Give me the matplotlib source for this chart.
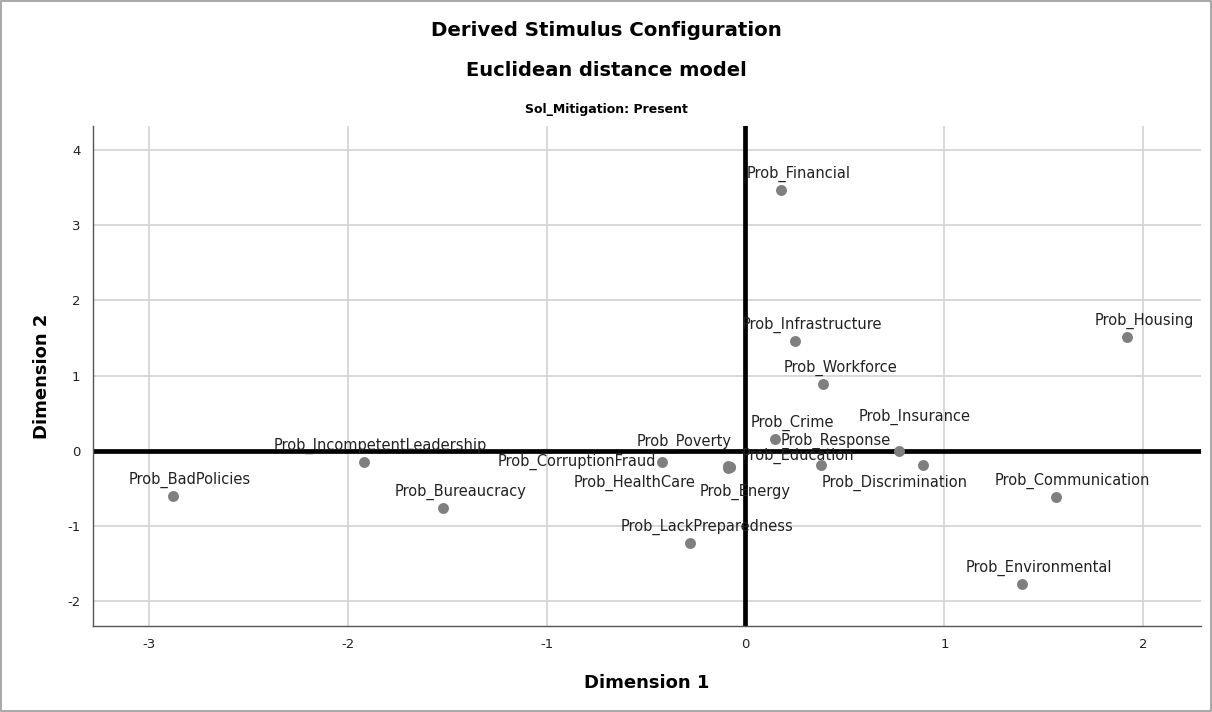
import matplotlib
matplotlib.use("Agg")
import matplotlib.pyplot as plt

plt.rcParams["axes.unicode_minus"] = False

# Stimulus coordinates
names = ["Prob_Financial", "Prob_Housing", "Prob_Infrastructure", "Prob_Workforce",
         "Prob_Crime", "Prob_Insurance", "Prob_Response", "Prob_Education",
         "Prob_Discrimination", "Prob_Communication", "Prob_Environmental",
         "Prob_BadPolicies", "Prob_IncompetentLeadership", "Prob_Bureaucracy",
         "Prob_LackPreparedness", "Prob_CorruptionFraud", "Prob_Poverty",
         "Prob_HealthCare", "Prob_Energy"]
dim1 = [0.18, 1.92, 0.25, 0.39, 0.15, 0.77, 0.38, -0.08, 0.89, 1.56, 1.39,
        -2.88, -1.92, -1.52, -0.28, -0.42, -0.09, -0.09, -0.08]
dim2 = [3.47, 1.52, 1.46, 0.89, 0.16, 0.00, -0.19, -0.21, -0.19, -0.61, -1.77,
        -0.60, -0.15, -0.76, -1.22, -0.15, -0.20, -0.23, -0.22]

# label placement (pixel offsets from the point), mimicking the SPSS layout
default_off = (17, 16)
label_off = {
    "Prob_Insurance": (16, 34),
    "Prob_Response": (15, 24),
    "Prob_Education": (68, 11),
    "Prob_Discrimination": (-28, -18),
    "Prob_Poverty": (-43, 24),
    "Prob_HealthCare": (-93, -15),
    "Prob_Energy": (16, -25),
}

fig = plt.figure(figsize=(12.12, 7.12), dpi=100)
ax = fig.add_axes([93 / 1212, 1 - 626 / 712, (1201 - 93) / 1212, (626 - 126) / 712])

ax.grid(True, color="#d2d2d2", linewidth=1.2)
ax.set_axisbelow(True)
ax.axhline(0, color="black", linewidth=3.4, zorder=2)
ax.axvline(0, color="black", linewidth=3.4, zorder=2)

ax.scatter(dim1, dim2, s=62, color="#7f7f7f", zorder=3, linewidths=0)

for n, x, y in zip(names, dim1, dim2):
    if n == "Prob_CorruptionFraud":
        ax.annotate(n, (x, y), xytext=(-6, 0), textcoords="offset pixels",
                    ha="right", va="center", fontsize=10.5, color="#222222", zorder=4)
        continue
    dx, dy = label_off.get(n, default_off)
    ax.annotate(n, (x, y), xytext=(dx, dy), textcoords="offset pixels",
                ha="center", va="center", fontsize=10.5, color="#222222", zorder=4)

ax.set_xlim(-3.28, 2.29)
ax.set_ylim(-2.33, 4.32)
ax.set_xticks([-3, -2, -1, 0, 1, 2])
ax.set_yticks([-2, -1, 0, 1, 2, 3, 4])
ax.tick_params(length=0, labelsize=9.5, colors="#222222", pad=9)
for s in ["top", "right"]:
    ax.spines[s].set_visible(False)
for s in ["left", "bottom"]:
    ax.spines[s].set_color("#555555")
    ax.spines[s].set_linewidth(1.0)

ax.set_xlabel("Dimension 1", fontsize=13, fontweight="bold", labelpad=16)
ax.set_ylabel("Dimension 2", fontsize=13, fontweight="bold", labelpad=12)

fig.text(0.5, 1 - 30 / 712, "Derived Stimulus Configuration", ha="center", va="center",
         fontsize=14.2, fontweight="bold")
fig.text(0.5, 1 - 70 / 712, "Euclidean distance model", ha="center", va="center",
         fontsize=14, fontweight="bold")
fig.text(0.5, 1 - 109 / 712, "Sol_Mitigation: Present", ha="center", va="center",
         fontsize=9, fontweight="bold")

# outer frame
fig.patches.append(plt.Rectangle((0.001, 0.001), 0.998, 0.997, transform=fig.transFigure,
                                 fill=False, edgecolor="#999999", linewidth=1.2))

fig.savefig("out.png", dpi=100)
